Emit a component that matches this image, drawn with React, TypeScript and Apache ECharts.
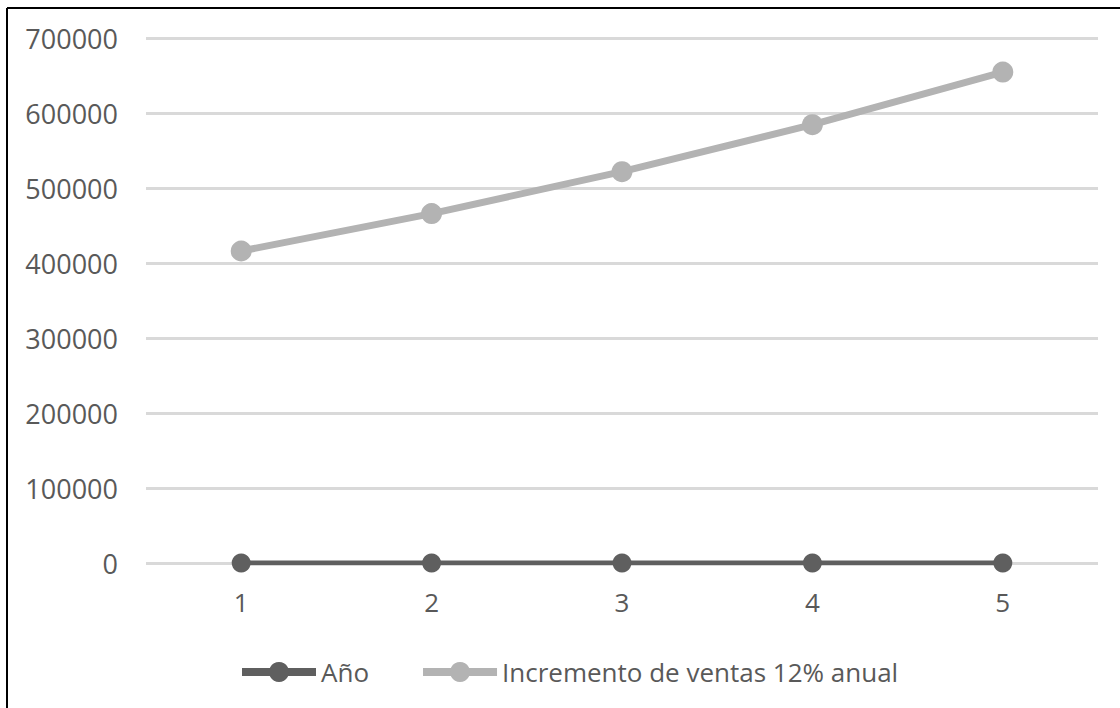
import React, { useEffect, useRef } from "react";
import * as echarts from "echarts";

const years = ["1", "2", "3", "4", "5"];
const yearSeries = [1, 2, 3, 4, 5];
const salesSeries = [416000, 465920, 521830, 584450, 654584];

const DARK = "#5f5f5f";
const LIGHT = "#b3b3b3";
const TEXT = "#595959";
const FONT = "'Open Sans', 'Noto Sans', sans-serif";

export default function App() {
  const ref = useRef<HTMLDivElement>(null);

  useEffect(() => {
    if (!ref.current) return;
    const chart = echarts.init(ref.current, undefined, { renderer: "svg" });
    chart.setOption({
      animation: false,
      backgroundColor: "#ffffff",
      textStyle: { fontFamily: FONT },
      grid: { left: 146, right: 22, top: 38, bottom: 145, containLabel: false },
      xAxis: {
        type: "category",
        data: years,
        boundaryGap: true,
        axisLine: { show: false },
        axisTick: { show: false },
        axisLabel: { color: TEXT, fontSize: 26, fontFamily: FONT, margin: 26 },
      },
      yAxis: {
        type: "value",
        min: 0,
        max: 700000,
        interval: 100000,
        axisLine: { show: false },
        axisTick: { show: false },
        axisLabel: {
          color: TEXT,
          fontSize: 27,
          fontFamily: FONT,
          margin: 28,
          formatter: (v: number) => String(v),
        },
        splitLine: { lineStyle: { color: "#d9d9d9", width: 3 } },
      },
      legend: {
        bottom: 23,
        left: 238,
        padding: 0,
        itemWidth: 74,
        itemHeight: 25,
        itemGap: 50,
        lineStyle: { width: 8 },
        textStyle: { color: TEXT, fontSize: 26, fontFamily: FONT, padding: [0, 0, 0, 0] },
        data: ["Año", "Incremento de ventas 12% anual"],
      },
      graphic: [
        { type: "line", shape: { x1: 7, y1: 8, x2: 7, y2: 708 }, style: { stroke: "#000", lineWidth: 2 } },
        { type: "line", shape: { x1: 7, y1: 8, x2: 1120, y2: 8 }, style: { stroke: "#000", lineWidth: 2 } },
      ],
      series: [
        {
          name: "Año",
          type: "line",
          data: yearSeries,
          symbol: "circle",
          symbolSize: 19,
          lineStyle: { color: DARK, width: 5 },
          itemStyle: { color: DARK },
          z: 3,
        },
        {
          name: "Incremento de ventas 12% anual",
          type: "line",
          data: salesSeries,
          symbol: "circle",
          symbolSize: 21,
          lineStyle: { color: LIGHT, width: 7 },
          itemStyle: { color: LIGHT },
          z: 2,
        },
      ],
    });
    return () => chart.dispose();
  }, []);

  return (
    <div
      ref={ref}
      style={{ position: "fixed", left: 0, top: 0, width: 1120, height: 708, background: "#fff" }}
    />
  );
}
